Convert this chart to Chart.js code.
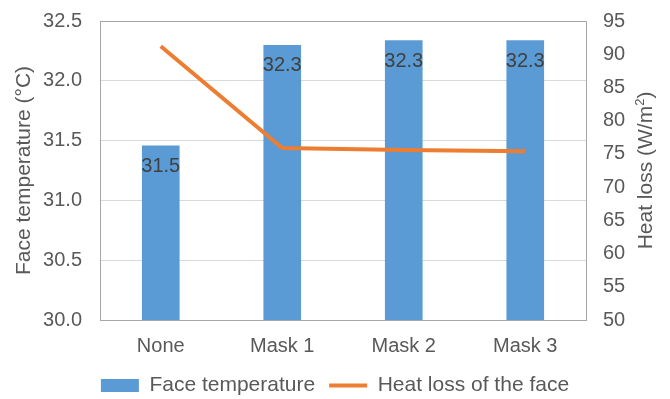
<!DOCTYPE html>
<html>
<head>
<meta charset="utf-8">
<script src="https://cdn.jsdelivr.net/npm/chart.js@4"></script>
<style>
  html, body { margin: 0; padding: 0; background: #fff; }
  #wrap { width: 670px; height: 399px; }
</style>
</head>
<body>
<div id="wrap"><canvas id="chart"></canvas></div>
<script>
// values
var categories = ['None', 'Mask 1', 'Mask 2', 'Mask 3'];
var faceTemperature = [31.46, 32.30, 32.34, 32.34];
var heatLoss = [91.2, 75.9, 75.6, 75.4];

var blue = '#5B9BD5';
var orange = '#ED7D31';
var tickColor = '#595959';
var gridColor = '#d9d9d9';
var fontFamily = '"Liberation Sans", Arial, sans-serif';

// labels inside the top of each bar, like the Excel original
var barLabels = {
  id: 'barLabels',
  afterDatasetsDraw: function (chart) {
    var meta = chart.getDatasetMeta(0);
    var ctx = chart.ctx;
    ctx.save();
    ctx.font = '20px ' + fontFamily;
    ctx.fillStyle = '#404040';
    ctx.textAlign = 'center';
    ctx.textBaseline = 'middle';
    meta.data.forEach(function (bar, i) {
      ctx.fillText(faceTemperature[i].toFixed(1), bar.x, bar.y + 21);
    });
    ctx.restore();
  }
};

// thin grey frame round the plot area
var plotFrame = {
  id: 'plotFrame',
  beforeDatasetsDraw: function (chart) {
    var a = chart.chartArea;
    var ctx = chart.ctx;
    ctx.save();
    ctx.strokeStyle = '#a6a6a6';
    ctx.lineWidth = 1;
    ctx.strokeRect(Math.round(a.left) + 0.5, Math.round(a.top) + 0.5,
      Math.round(a.right - a.left), Math.round(a.bottom - a.top));
    ctx.restore();
  }
};

// both axis titles read bottom-to-top; the right one has a superscript 2
var axisTitles = {
  id: 'axisTitles',
  afterDraw: function (chart) {
    var a = chart.chartArea;
    var cy = (a.top + a.bottom) / 2;
    var ctx = chart.ctx;
    ctx.save();
    ctx.fillStyle = tickColor;
    ctx.textBaseline = 'middle';

    ctx.save();
    ctx.translate(24, cy);
    ctx.rotate(-Math.PI / 2);
    ctx.font = '21px ' + fontFamily;
    ctx.textAlign = 'center';
    ctx.fillText('Face temperature (\u00B0C)', 0, 0);
    ctx.restore();

    ctx.save();
    ctx.translate(646, cy);
    ctx.rotate(-Math.PI / 2);
    var big = '21px ' + fontFamily;
    var small = '13px ' + fontFamily;
    var p1 = 'Heat loss (W/m', p2 = '2', p3 = ')';
    ctx.font = big;
    var w1 = ctx.measureText(p1).width, w3 = ctx.measureText(p3).width;
    ctx.font = small;
    var w2 = ctx.measureText(p2).width;
    var x = -(w1 + w2 + w3) / 2;
    ctx.textAlign = 'left';
    ctx.font = big;
    ctx.fillText(p1, x, 0);
    ctx.font = small;
    ctx.fillText(p2, x + w1, -6);
    ctx.font = big;
    ctx.fillText(p3, x + w1 + w2, 0);
    ctx.restore();

    ctx.restore();
  }
};

function noVerticalOverflow(s) {
  s.paddingTop = 0;
  s.paddingBottom = 0;
}

new Chart(document.getElementById('chart'), {
  data: {
    labels: categories,
    datasets: [
      {
        type: 'bar',
        label: 'Face temperature',
        data: faceTemperature,
        backgroundColor: blue,
        borderWidth: 0,
        barPercentage: 0.31,
        categoryPercentage: 1,
        yAxisID: 'y',
        pointStyle: 'rect',
        order: 1
      },
      {
        type: 'line',
        label: 'Heat loss of the face',
        data: heatLoss,
        borderColor: orange,
        backgroundColor: orange,
        borderWidth: 4,
        pointRadius: 0,
        pointStyle: 'line',
        tension: 0,
        yAxisID: 'y1',
        order: 0
      }
    ]
  },
  options: {
    responsive: true,
    maintainAspectRatio: false,
    animation: false,
    // negative bottom padding lets the legend sit low like the original
    layout: { padding: { top: 21, left: 0, right: 0, bottom: -7 } },
    plugins: {
      tooltip: { enabled: false },
      legend: {
        position: 'bottom',
        labels: {
          sort: function (a, b) { return a.datasetIndex - b.datasetIndex; },
          usePointStyle: true,
          pointStyleWidth: 38,
          boxHeight: 13,
          color: tickColor,
          padding: 14,
          font: { family: fontFamily, size: 21 }
        }
      }
    },
    scales: {
      x: {
        grid: { display: false },
        border: { display: false },
        ticks: { color: tickColor, font: { family: fontFamily, size: 20 }, padding: 6 },
        afterFit: function (s) { s.height = 41; }
      },
      y: {
        position: 'left',
        min: 30, max: 32.5,
        ticks: {
          stepSize: 0.5, color: tickColor, padding: 18,
          font: { family: fontFamily, size: 20 },
          callback: function (v) { return Number(v).toFixed(1); }
        },
        grid: { color: gridColor, drawTicks: false },
        border: { display: false },
        afterFit: function (s) { s.width = 100; noVerticalOverflow(s); }
      },
      y1: {
        position: 'right',
        min: 50, max: 95,
        ticks: {
          stepSize: 5, color: tickColor, padding: 17,
          font: { family: fontFamily, size: 20 }
        },
        grid: { display: false, drawTicks: false },
        border: { display: false },
        afterFit: function (s) { s.width = 84; noVerticalOverflow(s); }
      }
    }
  },
  plugins: [plotFrame, barLabels, axisTitles]
});
</script>
</body>
</html>
